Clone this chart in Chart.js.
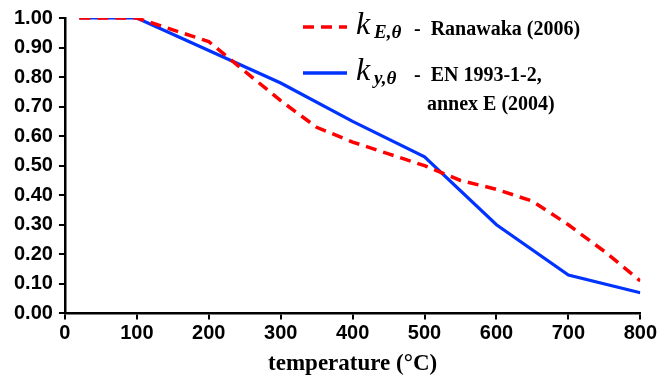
<!DOCTYPE html>
<html>
<head>
<meta charset="utf-8">
<script src="https://cdn.jsdelivr.net/npm/chart.js@4/dist/chart.umd.min.js"></script>
<style>
  html, body { margin: 0; padding: 0; background: #fff; }
  #wrap { width: 659px; height: 380px; }
</style>
</head>
<body>
<div id="wrap"><canvas id="chart"></canvas></div>
<script>
// temperature (°C) and reduction factors
const ranawakaTemps = [20, 100, 150, 200, 250, 300, 350, 400, 450, 500, 550, 600, 650, 700, 750, 800];
const ranawakaK = [1.0, 1.0, 0.96, 0.92, 0.82, 0.72, 0.63, 0.58, 0.54, 0.50, 0.45, 0.42, 0.38, 0.30, 0.21, 0.11];
const enTemps = [20, 100, 200, 300, 400, 500, 600, 700, 800];
const enK = [1.0, 1.0, 0.89, 0.78, 0.65, 0.53, 0.30, 0.13, 0.07];
const xTicks = [0, 100, 200, 300, 400, 500, 600, 700, 800];
const yTicks = [0, 0.1, 0.2, 0.3, 0.4, 0.5, 0.6, 0.7, 0.8, 0.9, 1.0];

const RED = "#ff0000";
const BLUE = "#0033ff";

const toXY = (xs, ys) => xs.map((x, i) => ({ x: x, y: ys[i] }));

// legend drawn in the plot's upper right, like the original figure
const legendPlugin = {
  id: "figLegend",
  afterDraw(chart) {
    const ctx = chart.ctx;
    ctx.save();
    ctx.textBaseline = "alphabetic";

    const rows = [
      { y: 27, color: RED, dash: [11, 7], sub: "E,θ", text: "-  Ranawaka (2006)" },
      { y: 73, color: BLUE, dash: [], sub: "y,θ", text: "-  EN 1993-1-2," },
    ];
    rows.forEach((r) => {
      ctx.strokeStyle = r.color;
      ctx.lineWidth = 3.5;
      ctx.setLineDash(r.dash);
      ctx.beginPath();
      ctx.moveTo(303, r.y);
      ctx.lineTo(347, r.y);
      ctx.stroke();
      ctx.setLineDash([]);

      ctx.fillStyle = "#000";
      ctx.font = "italic 32px 'Liberation Serif', serif";
      ctx.fillText("k", 356, r.y + 7);
      ctx.font = "italic bold 19px 'Liberation Serif', serif";
      ctx.fillText(r.sub, 374, r.y + 11);
      ctx.font = "bold 20px 'Liberation Serif', serif";
      ctx.fillText(r.text, 414, r.y + 8);
    });
    ctx.font = "bold 20px 'Liberation Serif', serif";
    ctx.fillText("annex E (2004)", 427, 110);
    ctx.restore();
  },
};

new Chart(document.getElementById("chart"), {
  type: "line",
  data: {
    datasets: [
      {
        label: "k E,θ - Ranawaka (2006)",
        data: toXY(ranawakaTemps, ranawakaK),
        borderColor: RED,
        borderWidth: 3.5,
        borderDash: [11, 7],
        pointRadius: 0,
        tension: 0,
        fill: false,
      },
      {
        label: "k y,θ - EN 1993-1-2, annex E (2004)",
        data: toXY(enTemps, enK),
        borderColor: BLUE,
        borderWidth: 3.2,
        pointRadius: 0,
        tension: 0,
        fill: false,
      },
    ],
  },
  options: {
    responsive: true,
    maintainAspectRatio: false,
    animation: false,
    layout: { padding: { top: 8, right: 0, left: 8, bottom: 2 } },
    plugins: {
      legend: { display: false },
      tooltip: { enabled: false },
    },
    scales: {
      x: {
        type: "linear",
        min: 0,
        max: 800,
        afterBuildTicks: (axis) => { axis.ticks = xTicks.map((v) => ({ value: v })); },
        grid: { drawOnChartArea: false, drawTicks: true, tickLength: 6, color: "#000", lineWidth: 2 },
        border: { color: "#000", width: 2.5 },
        ticks: {
          color: "#000",
          font: { family: "'Liberation Sans', Arial, sans-serif", size: 20, weight: "bold" },
          padding: 2,
          maxRotation: 0,
        },
        title: {
          display: true,
          text: "temperature (°C)",
          color: "#000",
          font: { family: "'Liberation Serif', 'Times New Roman', serif", size: 23, weight: "bold" },
          padding: { top: 3, bottom: 0 },
        },
      },
      y: {
        type: "linear",
        min: 0,
        max: 1,
        afterBuildTicks: (axis) => { axis.ticks = yTicks.map((v) => ({ value: v })); },
        grid: { drawOnChartArea: false, drawTicks: true, tickLength: 6, color: "#000", lineWidth: 2 },
        border: { color: "#000", width: 2.5 },
        ticks: {
          color: "#000",
          font: { family: "'Liberation Sans', Arial, sans-serif", size: 20, weight: "bold" },
          padding: 6,
          callback: (v) => v.toFixed(2),
        },
      },
    },
  },
  plugins: [legendPlugin],
});
</script>
</body>
</html>
